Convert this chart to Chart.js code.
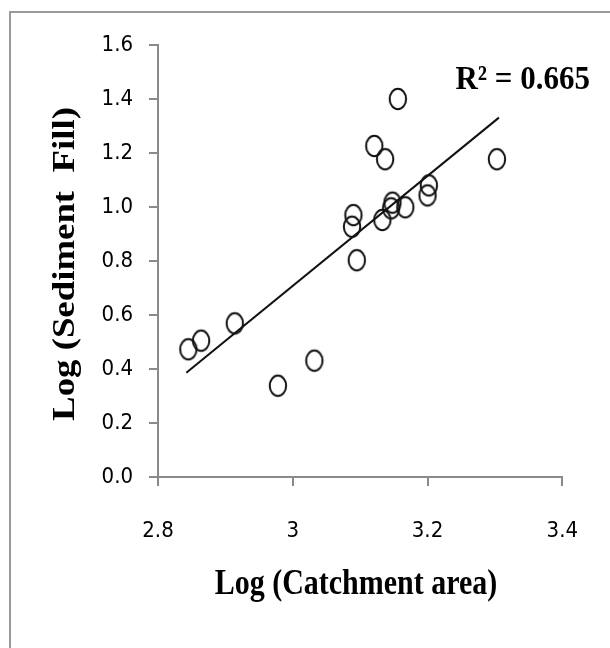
<!DOCTYPE html>
<html>
<head>
<meta charset="utf-8">
<script src="https://cdn.jsdelivr.net/npm/chart.js@4.4.0/dist/chart.umd.min.js"></script>
<style>
  html, body { margin: 0; padding: 0; background: #fff; }
  #caixa { position: relative; width: 610px; height: 648px; overflow: hidden; }
  #moldura { position: absolute; left: 9px; top: 11px; width: 640px; height: 680px;
             border: 2px solid #9a9a9a; pointer-events: none; }
</style>
</head>
<body>
<div id="caixa">
  <canvas id="grafico" width="610" height="648"></canvas>
  <div id="moldura"></div>
</div>
<script>
// pontos: log(area de captação) x log(preenchimento de sedimento)
const logArea = [3.156, 3.121, 3.137, 3.303, 3.202, 3.200, 3.148, 3.146, 3.167,
                 3.133, 3.090, 3.088, 3.095, 2.914, 2.864, 2.845, 3.032, 2.978]
const logSedimento = [1.400, 1.226, 1.177, 1.177, 1.080, 1.043, 1.016, 0.995, 0.999,
                      0.952, 0.970, 0.927, 0.803, 0.569, 0.505, 0.473, 0.431, 0.338]

// linha de tendência (extremos)
const tendX = [2.842, 3.306]
const tendY = [0.386, 1.331]

const xTicks = ['2.8', '3', '3.2', '3.4']
const yTicks = ['0.0', '0.2', '0.4', '0.6', '0.8', '1.0', '1.2', '1.4', '1.6']
const tituloX = 'Log (Catchment area)'
const tituloY = 'Log (Sediment  Fill)'
const r2Texto = 'R² = 0.665'

document.addEventListener('DOMContentLoaded', function () {

  // marcador oval (o original está esticado na vertical)
  function fazOval() {
    const c = document.createElement('canvas')
    c.width = 22
    c.height = 26
    const g = c.getContext('2d')
    g.strokeStyle = '#111'
    g.lineWidth = 2
    g.beginPath()
    g.ellipse(11, 13, 8.2, 10.2, 0, 0, Math.PI * 2)
    g.stroke()
    return c
  }

  const pontos = logArea.map((x, i) => ({ x: x, y: logSedimento[i] }))
  const linha = tendX.map((x, i) => ({ x: x, y: tendY[i] }))

  // texto em Times negrito, um pouco esticado como no original
  function escreve(ctx, texto, x, y, tam, rot, sx, sy, alinha) {
    ctx.save()
    ctx.translate(x, y)
    ctx.rotate(rot)
    ctx.scale(sx, sy)
    ctx.font = 'bold ' + tam + 'px "Liberation Serif", "Times New Roman", serif'
    ctx.fillStyle = '#000'
    ctx.textAlign = alinha
    ctx.textBaseline = 'middle'
    ctx.fillText(texto, 0, 0)
    ctx.restore()
  }

  const textos = {
    id: 'textos',
    afterDraw(chart) {
      const ctx = chart.ctx
      escreve(ctx, r2Texto, 590, 80, 31, 0, 1, 1.12, 'right')
      escreve(ctx, tituloX, 356, 585, 30, 0, 1, 1.2, 'center')
      escreve(ctx, tituloY, 66, 264, 32, -Math.PI / 2, 1.15, 1, 'center')
    }
  }

  const fonteTick = { family: '"Liberation Sans Narrow", "DejaVu Sans Condensed", sans-serif', size: 22 }
  const cinza = '#8a8a8a'

  new Chart(document.getElementById('grafico'), {
    type: 'scatter',
    data: {
      datasets: [{
        data: pontos,
        pointStyle: fazOval(),
        pointRadius: 11,
        pointHoverRadius: 11,
        showLine: false
      }, {
        type: 'line',
        data: linha,
        borderColor: '#111',
        borderWidth: 2,
        pointRadius: 0,
        fill: false
      }]
    },
    options: {
      responsive: false,
      animation: false,
      devicePixelRatio: 1,
      layout: { padding: { left: 0, top: 45, right: 37, bottom: 0 } },
      plugins: { legend: { display: false }, tooltip: { enabled: false } },
      scales: {
        x: {
          type: 'linear',
          min: 2.8, max: 3.4,
          afterFit(s) { s.height = 171 },
          afterBuildTicks(s) { s.ticks = xTicks.map(t => ({ value: parseFloat(t) })) },
          ticks: {
            callback: (v, i) => xTicks[i],
            font: fonteTick, color: '#000', padding: 32, maxRotation: 0
          },
          grid: { drawOnChartArea: false, color: cinza, lineWidth: 2, tickLength: 9 },
          border: { color: cinza, width: 2 }
        },
        y: {
          min: 0, max: 1.6,
          afterFit(s) { s.width = 158 },
          afterBuildTicks(s) { s.ticks = yTicks.map(t => ({ value: parseFloat(t) })) },
          ticks: {
            callback: (v, i) => yTicks[i],
            font: fonteTick, color: '#000', padding: 16
          },
          grid: { drawOnChartArea: false, color: cinza, lineWidth: 2, tickLength: 9 },
          border: { color: cinza, width: 2 }
        }
      }
    },
    plugins: [textos]
  })
})
</script>
</body>
</html>
